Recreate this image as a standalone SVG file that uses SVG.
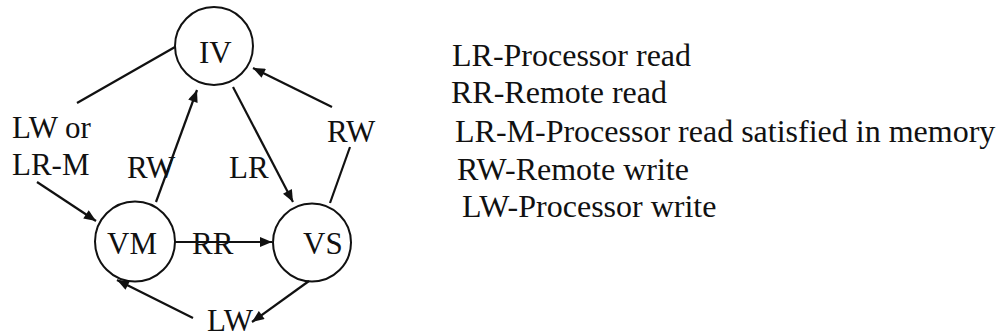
<svg xmlns="http://www.w3.org/2000/svg" width="1002" height="336" viewBox="0 0 1002 336">
<style>
.node{fill:none;stroke:#111;stroke-width:2}
.lbl{font-size:31px;fill:#111}
.leg{font-size:32px;fill:#111}
.edge{fill:none;stroke:#111;stroke-width:2.2}
</style>
<defs>
<marker id="ah" viewBox="0 0 12 10" refX="12" refY="5" markerWidth="13" markerHeight="10" markerUnits="userSpaceOnUse" orient="auto">
<path d="M0,0 L12,5 L0,10 z" fill="#111"/>
</marker>
</defs>
<rect width="1002" height="336" fill="#fff"/>
<g font-family="'Liberation Serif', Tinos, 'Times New Roman', Times, 'DejaVu Serif', serif">
<g id="IV"><circle class="node" cx="214" cy="46" r="39"/><text class="lbl" x="199" y="63">IV</text></g>
<g id="VM"><circle class="node" cx="135" cy="241.5" r="40"/><text class="lbl" x="107" y="254">VM</text></g>
<g id="VS"><circle class="node" cx="312" cy="242.5" r="39"/><text class="lbl" x="303" y="254">VS</text></g>
<g id="connectors">
<line class="edge" x1="175" y1="47" x2="77" y2="103"/>
<line class="edge" x1="37" y1="182" x2="96" y2="221" marker-end="url(#ah)"/>
<line class="edge" x1="156" y1="202" x2="197" y2="90" marker-end="url(#ah)"/>
<line class="edge" x1="233" y1="87" x2="293" y2="202" marker-end="url(#ah)"/>
<line class="edge" x1="330" y1="203" x2="350" y2="147"/>
<line class="edge" x1="332" y1="107" x2="253" y2="68" marker-end="url(#ah)"/>
<line class="edge" x1="175" y1="242" x2="272" y2="242" marker-end="url(#ah)"/>
<line class="edge" x1="309" y1="281" x2="252" y2="322" marker-end="url(#ah)"/>
<line class="edge" x1="193" y1="318" x2="117" y2="280" marker-end="url(#ah)"/>
<text class="lbl" x="12" y="138">LW or</text>
<text class="lbl" x="12" y="175">LR-M</text>
<text class="lbl" x="127" y="178">RW</text>
<text class="lbl" x="229" y="178">LR</text>
<text class="lbl" x="327" y="142">RW</text>
<text class="lbl" x="192" y="254">RR</text>
<text class="lbl" x="207" y="331">LW</text>
</g>
<g id="legend">
<text class="leg" x="452" y="66">LR-Processor read</text>
<text class="leg" x="451" y="103">RR-Remote read</text>
<text class="leg" x="455" y="142">LR-M-Processor read satisfied in memory</text>
<text class="leg" x="457" y="180">RW-Remote write</text>
<text class="leg" x="462" y="217">LW-Processor write</text>
</g>
</g>
</svg>
